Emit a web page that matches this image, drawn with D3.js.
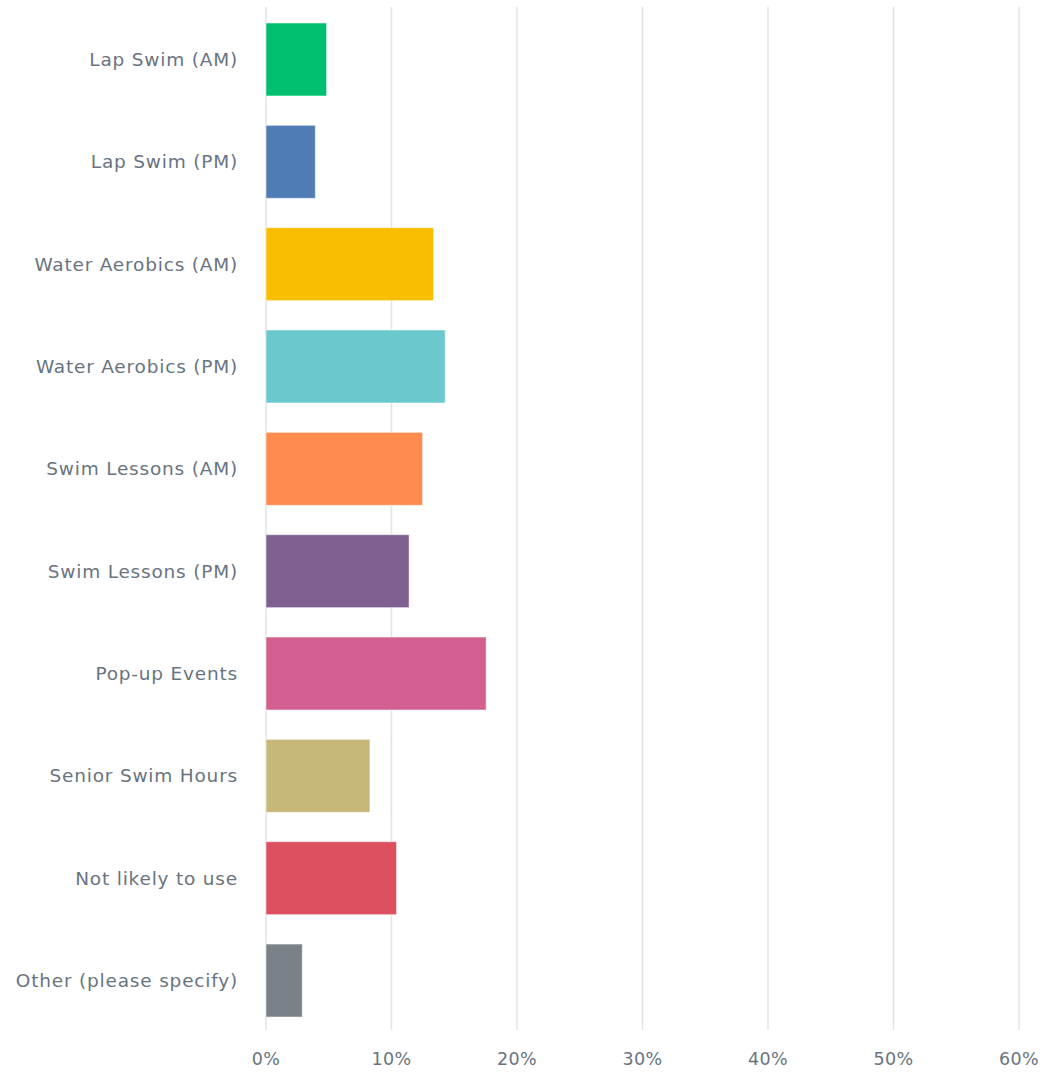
<!DOCTYPE html>
<html>
<head>
<meta charset="utf-8">
<script src="https://cdn.jsdelivr.net/npm/d3@7"></script>
<style>
  body { margin: 0; background: #fff; }
  text { font-family: "DejaVu Sans", sans-serif; fill: #68747f; }
</style>
</head>
<body>
<div id="chart"></div>
<script>
// Categories and values (percent)
const categories = [
    'Lap Swim (AM)', 'Lap Swim (PM)', 'Water Aerobics (AM)', 'Water Aerobics (PM)',
    'Swim Lessons (AM)', 'Swim Lessons (PM)', 'Pop-up Events', 'Senior Swim Hours',
    'Not likely to use', 'Other (please specify)'
];
const values = [4.83, 3.93, 13.35, 14.28, 12.48, 11.4, 17.54, 8.28, 10.4, 2.89];
const colors = ['#00bf6f', '#507cb6', '#f9be00', '#6bc8cd', '#ff8b4f', '#7f5f90',
    '#d25f90', '#c7b879', '#dc5060', '#7a8188'];
const ticks = [0, 10, 20, 30, 40, 50, 60];

const svgWidth = 1048;
const svgHeight = 1072;

const svg = d3.select('#chart')
    .append('svg')
    .attr('width', svgWidth)
    .attr('height', svgHeight);

const x = d3.scaleLinear().domain([0, 60]).range([266, 1019]);
const y = d3.scaleBand().domain(categories).range([8.3, 1031.7]).paddingInner(0.287).paddingOuter(0.1435);

// gridlines
svg.selectAll('line.grid')
    .data(ticks)
    .enter()
    .append('line')
    .attr('class', 'grid')
    .attr('x1', d => x(d))
    .attr('x2', d => x(d))
    .attr('y1', 7)
    .attr('y2', 1030)
    .attr('stroke', '#e3e3e3')
    .attr('stroke-width', 1.5);

// tick labels
svg.selectAll('text.tick')
    .data(ticks)
    .enter()
    .append('text')
    .attr('class', 'tick')
    .attr('x', d => x(d))
    .attr('y', 1059)
    .attr('dy', '0.35em')
    .attr('text-anchor', 'middle')
    .attr('font-size', 17.5)
    .attr('letter-spacing', 0.3)
    .text(d => d + '%');

// bars
svg.selectAll('rect.bar')
    .data(values)
    .enter()
    .append('rect')
    .attr('class', 'bar')
    .attr('x', x(0))
    .attr('y', (d, i) => y(categories[i]))
    .attr('width', d => x(d) - x(0))
    .attr('height', y.bandwidth())
    .attr('fill', (d, i) => colors[i])
    .attr('stroke', 'rgba(255,255,255,0.5)')
    .attr('stroke-width', 1);

// category labels
svg.selectAll('text.label')
    .data(categories)
    .enter()
    .append('text')
    .attr('class', 'label')
    .attr('x', 238)
    .attr('y', d => y(d) + y.bandwidth() / 2)
    .attr('dy', '0.35em')
    .attr('text-anchor', 'end')
    .attr('font-size', 18.5)
    .attr('letter-spacing', 0.8)
    .text(d => d);
</script>
</body>
</html>
